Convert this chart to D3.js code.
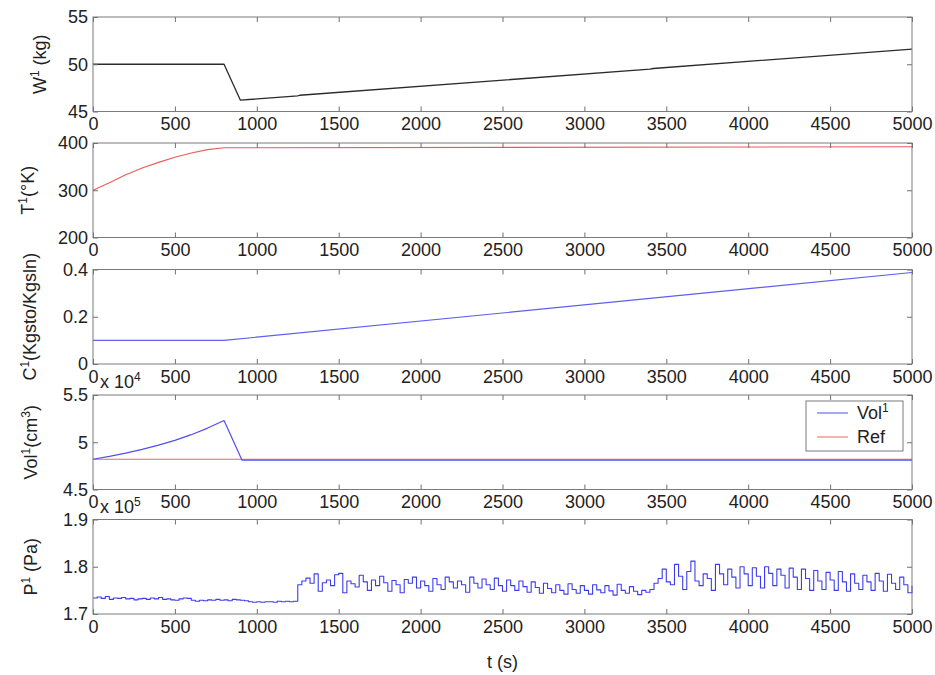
<!DOCTYPE html>
<html><head><meta charset="utf-8">
<script src="https://cdn.jsdelivr.net/npm/d3@7"></script>
<style>
body{margin:0;background:#fff}
svg{display:block}
text{font-family:Arial,"Liberation Sans",Helvetica,sans-serif;fill:#222}
</style></head>
<body><svg id="c" width="935" height="675"></svg>
<script>
// ---------- data ----------
const X_TICKS = [0,500,1000,1500,2000,2500,3000,3500,4000,4500,5000];

const W_T = [0,800,900,1250,1262,3400,3420,5000];
const W_V = [50,50,46.2,46.65,46.72,49.48,49.55,51.6];
const W_TICKS = [45,50,55];

const T_T = [0,100,200,300,400,500,600,700,800,5000];
const T_V = [300,316,333,347,359,370,379,386,390,392];
const T_TICKS = [200,300,400];

const C_T = [0,800,5000];
const C_V = [0.1,0.1,0.387];
const C_TICKS = [0,0.2,0.4];

// Vol in units of 1e4 cm^3
const VOL_T = [0,100,200,300,400,500,600,700,800,910,5000];
const VOL_V = [4.82,4.85,4.885,4.925,4.97,5.02,5.08,5.15,5.23,4.81,4.81];
const REF_T = [0,5000];
const REF_V = [4.82,4.82];
const VOL_TICKS = [4.5,5,5.5];

// P in units of 1e5 Pa, sampled every 25 s in three segments
const P_STEP = 25;
const P_A_START = 0;
const P_A = [1.734,1.736,1.733,1.737,1.731,1.734,1.733,1.735,1.732,1.733,
             1.730,1.732,1.733,1.731,1.734,1.732,1.735,1.731,1.732,1.730,
             1.729,1.732,1.734,1.733,1.729,1.727,1.729,1.728,1.730,1.729,
             1.731,1.729,1.730,1.728,1.731,1.730,1.729,1.728,1.726,1.725,
             1.726,1.725,1.726,1.726,1.725,1.727,1.726,1.727,1.726,1.727];
const P_B_START = 1250;
const P_B = [1.762,1.770,1.776,1.765,1.785,1.748,1.766,1.772,1.760,1.783,
             1.786,1.745,1.770,1.764,1.757,1.782,1.768,1.750,1.772,1.760,
             1.780,1.766,1.748,1.771,1.762,1.745,1.773,1.765,1.778,1.755,
             1.770,1.760,1.748,1.775,1.762,1.752,1.778,1.768,1.755,1.770,
             1.762,1.746,1.778,1.765,1.755,1.774,1.762,1.752,1.776,1.760,
             1.748,1.772,1.760,1.750,1.770,1.758,1.746,1.768,1.756,1.744,
             1.765,1.754,1.745,1.762,1.750,1.742,1.764,1.752,1.744,1.760,
             1.750,1.742,1.762,1.751,1.745,1.760,1.749,1.740,1.763,1.750,
             1.744,1.758,1.748,1.741,1.750,1.746];
const P_C_START = 3400;
const P_C = [1.752,1.765,1.775,1.795,1.768,1.762,1.805,1.780,1.752,1.790,
             1.812,1.770,1.760,1.785,1.775,1.750,1.805,1.785,1.762,1.795,
             1.778,1.755,1.800,1.785,1.760,1.798,1.780,1.755,1.800,1.786,
             1.760,1.795,1.782,1.755,1.797,1.778,1.752,1.795,1.775,1.750,
             1.792,1.770,1.752,1.788,1.772,1.750,1.790,1.768,1.748,1.785,
             1.765,1.752,1.782,1.768,1.750,1.786,1.770,1.748,1.784,1.765,
             1.752,1.778,1.762,1.745,1.760];
const P_TICKS = [1.7,1.8,1.9];

// ---------- layout ----------
const svg = d3.select("#c");
const X0 = 93, X1 = 912;
const TOPS = [17,143,269.5,395,519.5];
const PH = 94.5;
const FS = 18;
const SUP = 12;
const x = d3.scaleLinear().domain([0,5000]).range([X0,X1]);

function zip(ts, vs){ return ts.map((t,i)=>[t,vs[i]]); }
function seg(start, vs, nextStart){
  return vs.map((v,i)=>[start+i*P_STEP, v]).filter(d=> nextStart==null || d[0] < nextStart);
}
const P_PTS = seg(P_A_START,P_A,P_B_START).concat(seg(P_B_START,P_B,P_C_START)).concat(seg(P_C_START,P_C,null));

const panels = [
  {dom:[45,55], ticks:W_TICKS, series:[{pts:zip(W_T,W_V),color:"#2b2b2b",w:1.3}],
   label:["W","1"," (kg)"], lx:46},
  {dom:[200,400], ticks:T_TICKS, series:[{pts:zip(T_T,T_V),color:"#ee5a5a",w:1.1}],
   label:["T","1","(°K)"], lx:34},
  {dom:[0,0.4], ticks:C_TICKS, series:[{pts:zip(C_T,C_V),color:"#5e5ef0",w:1.1}],
   label:["C","1","(Kgsto/Kgsln)"], lx:36},
  {dom:[4.5,5.5], ticks:VOL_TICKS, exp:"4",
   series:[{pts:zip(REF_T,REF_V),color:"#ee6464",w:1.1},{pts:zip(VOL_T,VOL_V),color:"#4f4fee",w:1.2}],
   label:["Vol","1","(cm",'3',")"], lx:37, legend:true},
  {dom:[1.7,1.9], ticks:P_TICKS, exp:"5", step:true,
   series:[{pts:P_PTS,color:"#3c3cee",w:1.1}],
   label:["P","1"," (Pa)"], lx:37}
];

panels.forEach((p,i)=>{
  const top = TOPS[i], bot = top+PH;
  const y = d3.scaleLinear().domain(p.dom).range([bot,top]);
  const g = svg.append("g");

  // lines
  const line = d3.line().x(d=>x(d[0])).y(d=>y(d[1]));
  if(p.step) line.curve(d3.curveStepAfter);
  p.series.forEach(s=>{
    g.append("path").attr("d",line(s.pts)).attr("fill","none")
      .attr("stroke",s.color).attr("stroke-width",s.w).attr("stroke-linejoin","round");
  });

  // axes
  const axB = d3.axisBottom(x).tickValues(X_TICKS).tickSizeInner(-5).tickSizeOuter(0).tickPadding(6).tickFormat(d=>String(d));
  const axT = d3.axisTop(x).tickValues(X_TICKS).tickSizeInner(-5).tickSizeOuter(0).tickFormat("");
  const axL = d3.axisLeft(y).tickValues(p.ticks).tickSizeInner(-5).tickSizeOuter(0).tickPadding(5).tickFormat(d=>String(d));
  const axR = d3.axisRight(y).tickValues(p.ticks).tickSizeInner(-5).tickSizeOuter(0).tickFormat("");
  [[axB,`translate(0,${bot})`],[axT,`translate(0,${top})`],[axL,`translate(${X0},0)`],[axR,`translate(${X1},0)`]].forEach(([a,tr])=>{
    const ag = g.append("g").attr("transform",tr).call(a);
    ag.select(".domain").remove();
    ag.selectAll(".tick line").attr("stroke","#6f6f6f");
    ag.selectAll("text").attr("font-size",FS).attr("fill","#222").attr("font-family",'Arial,"Liberation Sans",sans-serif');
  });
  g.append("rect").attr("x",X0).attr("y",top).attr("width",X1-X0).attr("height",PH)
    .attr("fill","none").attr("stroke","#7a7a7a").attr("stroke-width",1);

  // y label
  const cy = (top+bot)/2;
  const t = g.append("text").attr("transform",`translate(${p.lx},${cy}) rotate(-90)`)
    .attr("text-anchor","middle").attr("font-size",FS);
  p.label.forEach((s,k)=>{
    const sup = (k%2===1);
    const ts = t.append("tspan").text(s);
    if(sup){ ts.attr("font-size",SUP).attr("dy",-7); }
    else if(k>0){ ts.attr("dy",7); }
  });

  // exponent label
  if(p.exp){
    const e = g.append("text").attr("x",X0+7).attr("y",top-7).attr("font-size",FS);
    e.append("tspan").text("x 10");
    e.append("tspan").text(p.exp).attr("font-size",SUP).attr("dy",-7);
  }

  // legend
  if(p.legend){
    const lg = g.append("g");
    lg.append("rect").attr("x",806).attr("y",401).attr("width",97).attr("height",50)
      .attr("fill","#fff").attr("stroke","#7a7a7a");
    const items = [{name:["Vol","1"],color:"#4f4fee",y:413},{name:["Ref"],color:"#ee6464",y:437}];
    items.forEach(it=>{
      lg.append("line").attr("x1",817).attr("x2",848).attr("y1",it.y).attr("y2",it.y)
        .attr("stroke",it.color).attr("stroke-width",1);
      const tx = lg.append("text").attr("x",857).attr("y",it.y+6).attr("font-size",FS);
      tx.append("tspan").text(it.name[0]);
      if(it.name[1]) tx.append("tspan").text(it.name[1]).attr("font-size",SUP).attr("dy",-7);
    });
  }
});

// x label
svg.append("text").attr("x",(X0+X1)/2).attr("y",668).attr("text-anchor","middle")
  .attr("font-size",FS).text("t (s)");
</script>
</body></html>
